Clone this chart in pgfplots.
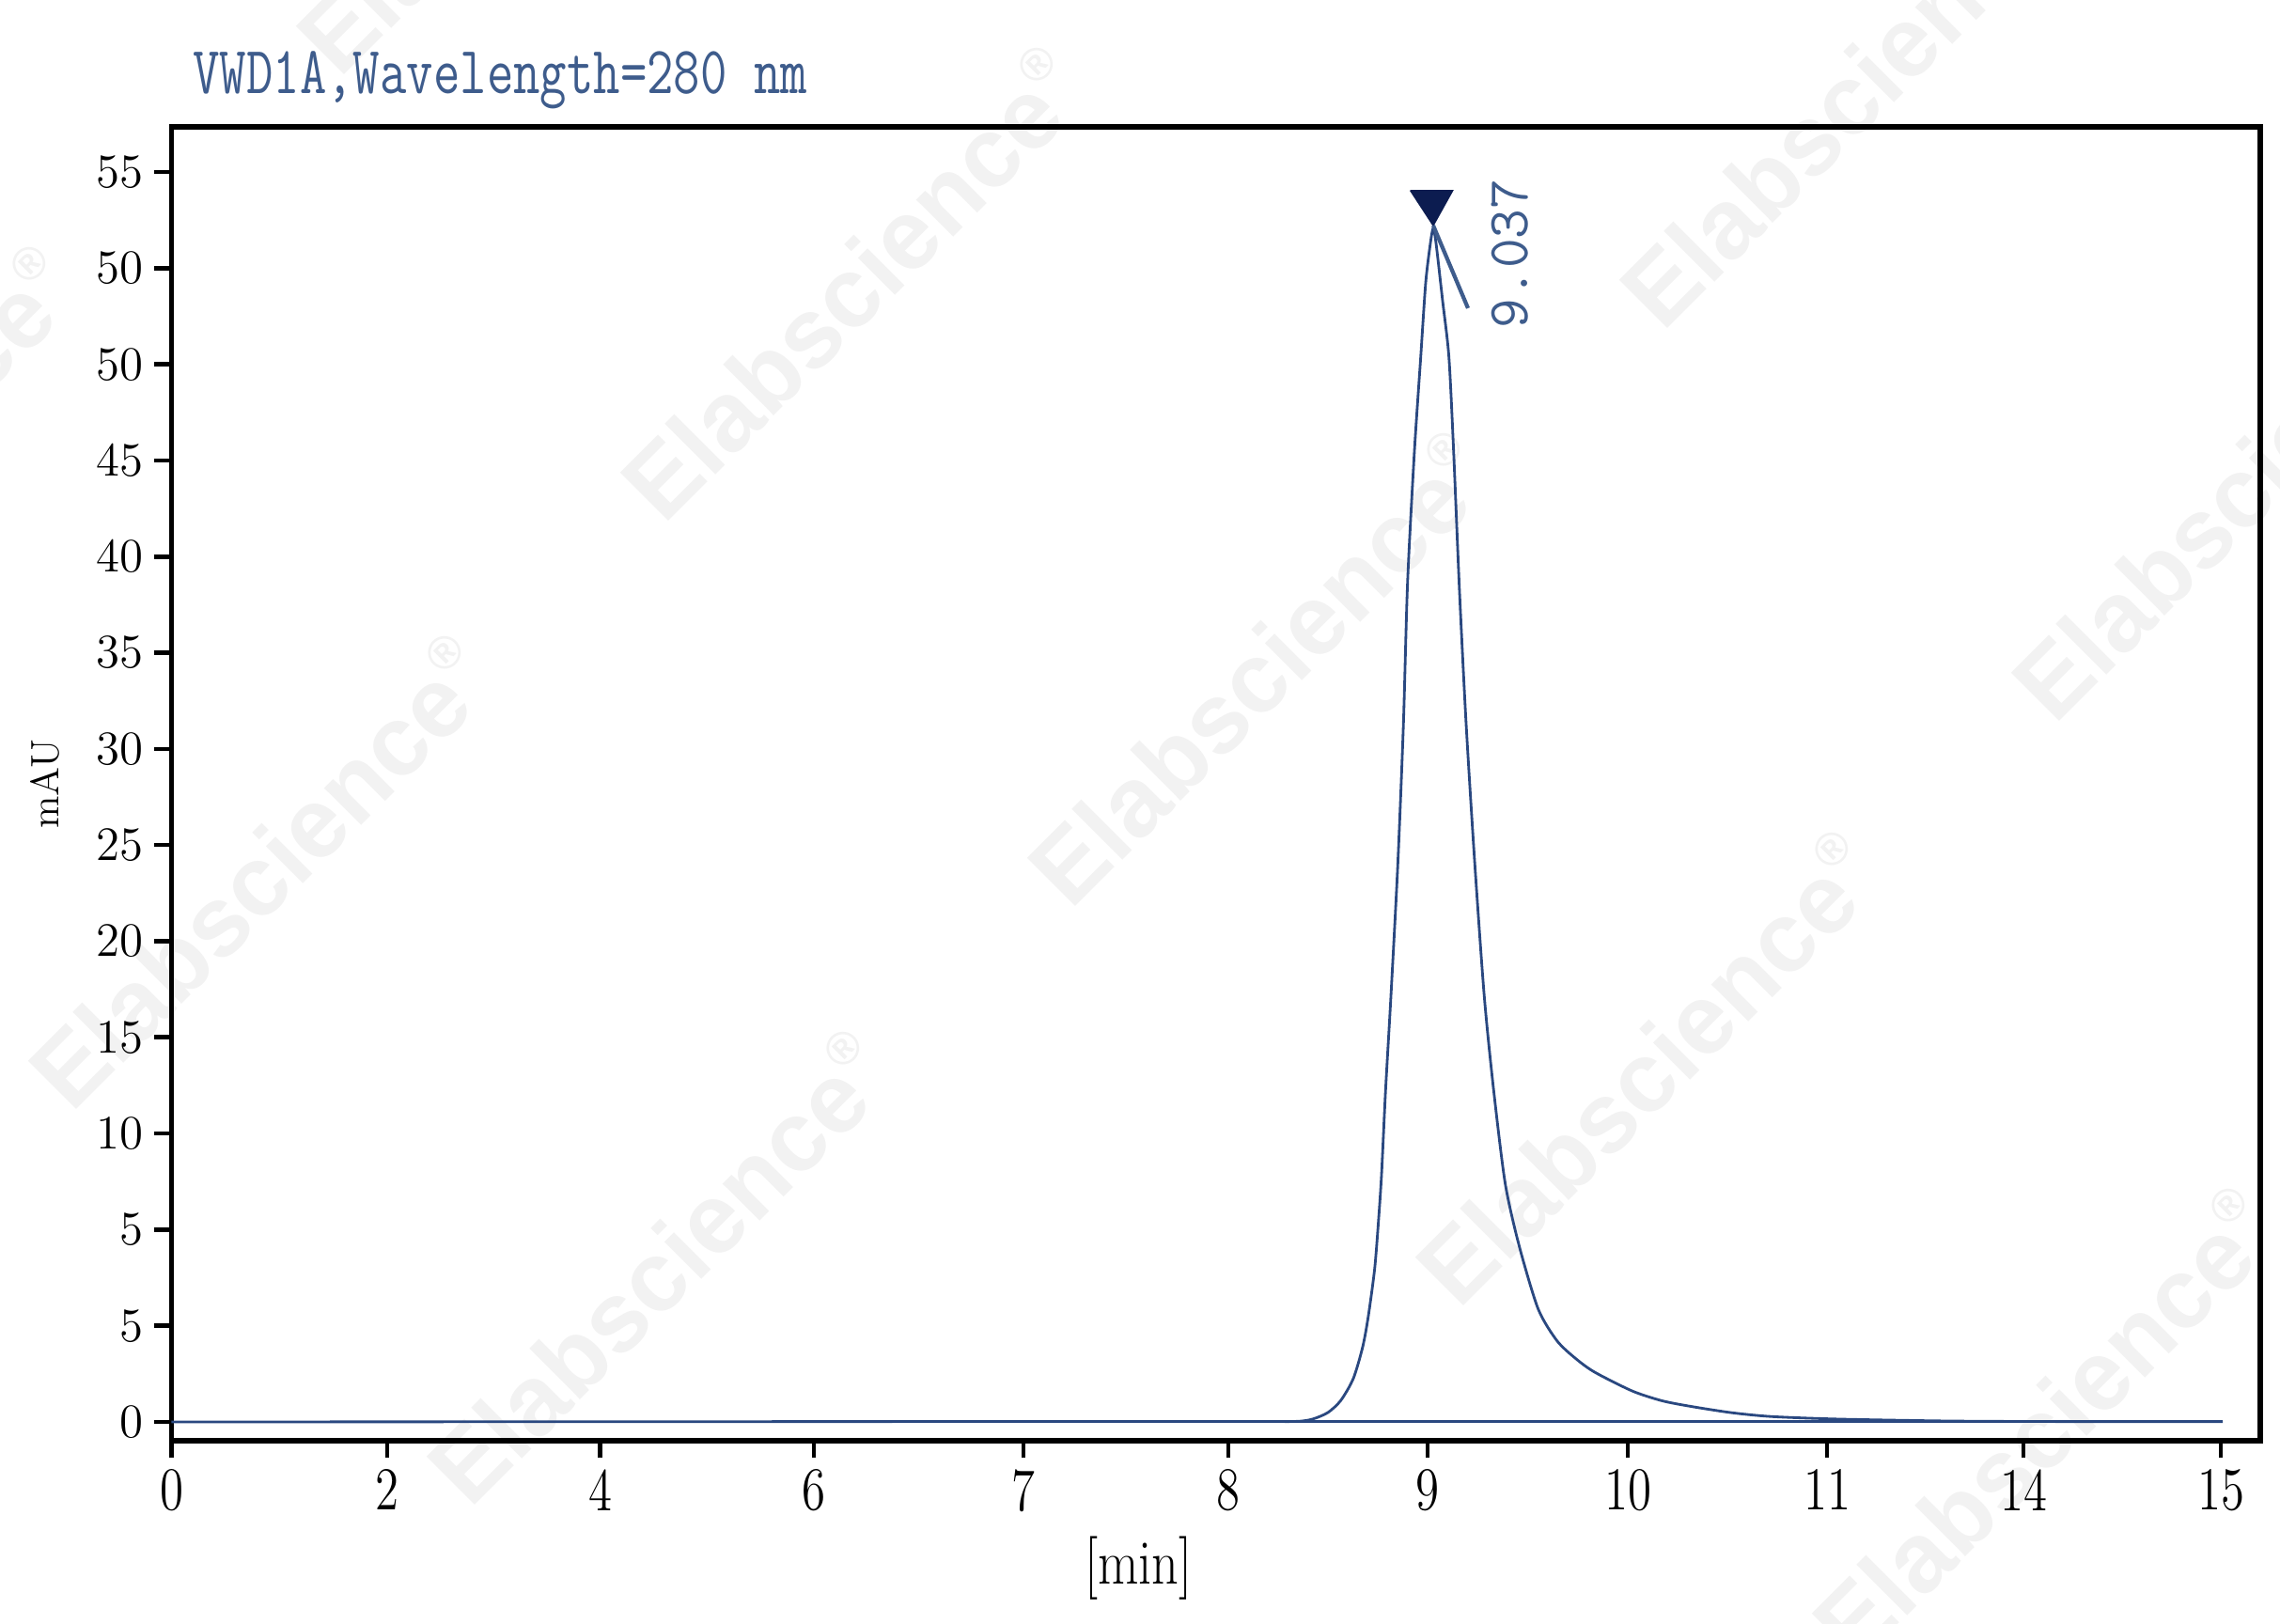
\documentclass[border=0pt]{standalone}
\usepackage{pgfplots}
\pgfplotsset{compat=1.18}
\usepackage{fontspec}
\usepackage{graphicx}
\newfontfamily\wmfont{Liberation Sans}

\definecolor{trace}{RGB}{42,72,128}
\definecolor{lbl}{RGB}{62,92,140}
\definecolor{mk}{RGB}{12,28,80}
\definecolor{wm}{RGB}{242,242,242}

\newcommand{\xl}[1]{\scalebox{1}[1.27]{#1}}

\begin{document}
\begin{tikzpicture}
% watermark, behind everything
\foreach \cx/\cy in {72.3/123.1, 178.6/143.6, 37.8/170.6, -34.9/101.9, 115.6/82.1,
                     220.3/101.8, 9.3/60.5, 156.9/39.6, 51.7/18.4, 199.1/1.7}{
  \node[rotate=45, text=wm, font=\wmfont\bfseries\fontsize{30}{30}\selectfont]
    at (\cx mm,\cy mm) {Elabscience\raisebox{0.9ex}{\fontsize{14}{14}\selectfont ®}};
}
\begin{axis}[
    at={(0,0)}, anchor=south west,
    scale only axis, width=222.25mm, height=139.8mm,
    xmin=0, xmax=22.225, ymin=-0.978, ymax=67.35,
    clip=false,
    axis line style={line width=1.5pt},
    tick align=outside, major tick length=1.8mm,
    tick style={line width=1.3pt, black},
    xtick pos=bottom, ytick pos=left,
    xtick={0,2.295,4.56,6.835,9.065,11.245,13.365,15.495,17.615,19.705,21.805},
    xticklabels={\xl{0},\xl{2},\xl{4},\xl{6},\xl{7},\xl{8},\xl{9},\xl{10},\xl{11},\xl{14},\xl{15}},
    ytick={0,5,...,65},
    yticklabels={0,5,5,10,15,20,25,30,35,40,45,50,50,55},
    ticklabel style={font=\fontsize{14.5}{17}\selectfont},
    xlabel={\scalebox{1}[1.2]{[min]}},
    xlabel style={at={(rel axis cs:0.463,-0.0973)}, anchor=center, font=\fontsize{16}{19}\selectfont},
    ylabel={mAU},
    ylabel style={at={(rel axis cs:-0.0605,0.5)}, anchor=center, font=\fontsize{12}{14}\selectfont},
]
    % signal
    \addplot[trace, line width=0.8pt, smooth, tension=0.45] coordinates {
        (0,0) (4,0.01) (8,0.02) (11.5,0.02) (11.975,0.03) (12.142,0.15)
        (12.305,0.49) (12.442,1.12) (12.575,2.26) (12.675,3.91) (12.735,5.52)
        (12.802,7.97) (12.842,10.41) (12.875,12.85) (12.918,17.25) (12.975,22.14)
        (13.048,28.98) (13.108,36.31) (13.152,43.65) (13.225,50.49) (13.292,55.38)
        (13.345,59.25) (13.395,61.3) (13.425,62.07) (13.455,61.3) (13.525,58.3)
        (13.592,55.38) (13.642,50.49) (13.705,43.16) (13.775,36.31) (13.868,28.98)
        (13.968,22.14) (14.068,17.25) (14.192,12.37) (14.342,9.11) (14.542,5.87)
        (14.742,4.22) (14.94,3.3) (15.142,2.59) (15.542,1.61) (15.86,1.1)
        (16.175,0.80) (16.6,0.48) (17.025,0.28) (17.72,0.15) (18.875,0.05)
        (20,0.02) (21.825,0.01)
    };
    % integration baseline
    \addplot[trace, line width=0.8pt] coordinates {(11.9,0.02) (21.825,0.02)};
    % peak marker and tick
    \addplot[mk, fill=mk, line width=0.4pt] coordinates {
        (13.182,64.04) (13.632,64.04) (13.425,62.22) (13.182,64.04)
    };
    \addplot[lbl, line width=1.2pt] coordinates {(13.425,62.22) (13.795,57.92)};
    \node[rotate=90, text=lbl, font=\ttfamily\fontsize{17.5}{20}\selectfont]
        at (axis cs:14.242,60.75) {9.037};
    \node[anchor=base west, xshift=1.05mm, yshift=3.5mm, text=lbl,
          font=\ttfamily\fontsize{15.7}{18}\selectfont]
        at (rel axis cs:0,1) {\scalebox{1}[1.3]{VWD1A,Wavelength=280 nm}};
\end{axis}
\pgfresetboundingbox
\path (-18.25mm,-19.5mm) rectangle (224.35mm,153.3mm);
\end{tikzpicture}
\end{document}
